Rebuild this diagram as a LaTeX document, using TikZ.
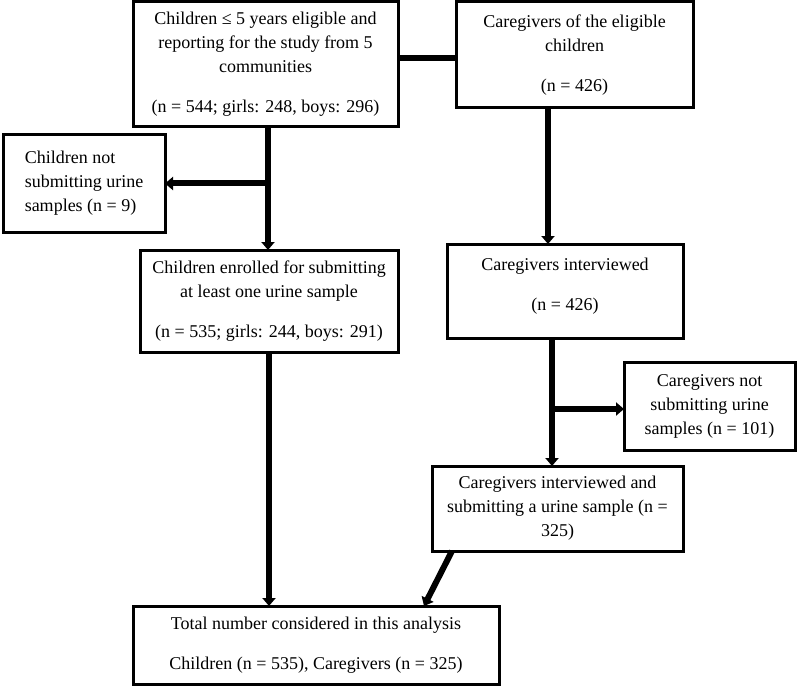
\documentclass[tikz,border=0pt]{standalone}
\usepackage{fontspec}
\setmainfont{Liberation Serif}
\usetikzlibrary{arrows.meta}
\begin{document}
\begin{tikzpicture}[x=1pt,y=-1pt,
  box/.style={draw, line width=3pt, outer sep=0pt, inner sep=0pt, align=center,
    font=\fontsize{18}{24}\selectfont},
  conn/.style={line width=6pt},
  arr/.style={conn, -{Triangle[width=13pt,length=8pt]}}]
\useasboundingbox (0,0) rectangle (797,687);
\node[box, minimum width=265pt, minimum height=125pt] (A) at (265.5,64.5)
  {Children ≤ 5 years eligible and\\ reporting for the study from 5\\ communities\\[16pt] (n = 544; girls: 248, boys: 296)};
\node[box, minimum width=237pt, minimum height=106pt] (B) at (574.5,55)
  {Caregivers of the eligible\\ children\\[16pt] (n = 426)};
\node[box, align=left, minimum width=162pt, minimum height=97pt] (C) at (84,183.5)
  {Children not\\ submitting urine\\ samples (n = 9)};
\node[box, minimum width=258pt, minimum height=102pt] (D) at (269,301)
  {Children enrolled for submitting\\ at least one urine sample\\[16pt] (n = 535; girls: 244, boys: 291)};
\node[box, minimum width=236pt, minimum height=94pt] (E) at (565,291)
  {Caregivers interviewed\\[16pt] (n = 426)\\[-10pt]};
\node[box, minimum width=171pt, minimum height=88pt] (F) at (709.5,406)
  {Caregivers not\\ submitting urine\\ samples (n = 101)};
\node[box, minimum width=251pt, minimum height=85pt] (G) at (557.5,508.5)
  {Caregivers interviewed and\\ submitting a urine sample (n =\\ 325)};
\node[box, minimum width=366pt, minimum height=78pt] (H) at (316,645)
  {Total number considered in this analysis\\[16pt] Children (n = 535), Caregivers (n = 325)};
% connectors
\coordinate (ab) at ([yshift=6.5pt]A.east);
\draw[conn] (ab) -- (ab -| B.west);
\coordinate (ad) at ([xshift=-1pt]D.north);
\draw[arr] (ad |- A.south) -- (ad);
\draw[arr] (ad |- C.east) -- (C.east);
\coordinate (be) at ([xshift=-17pt]E.north);
\draw[arr] (be |- B.south) -- (be);
\coordinate (eg) at ([xshift=-5.5pt]G.north);
\draw[arr] (eg |- E.south) -- (eg);
\coordinate (fw) at ([yshift=-3pt]F.west);
\draw[arr] (eg |- fw) -- (fw);
\draw[arr] (D.south) -- (D.south |- H.north);
\draw[arr] ([xshift=-105.5pt]G.south) -- ([xshift=108pt]H.north);
\end{tikzpicture}
\end{document}
